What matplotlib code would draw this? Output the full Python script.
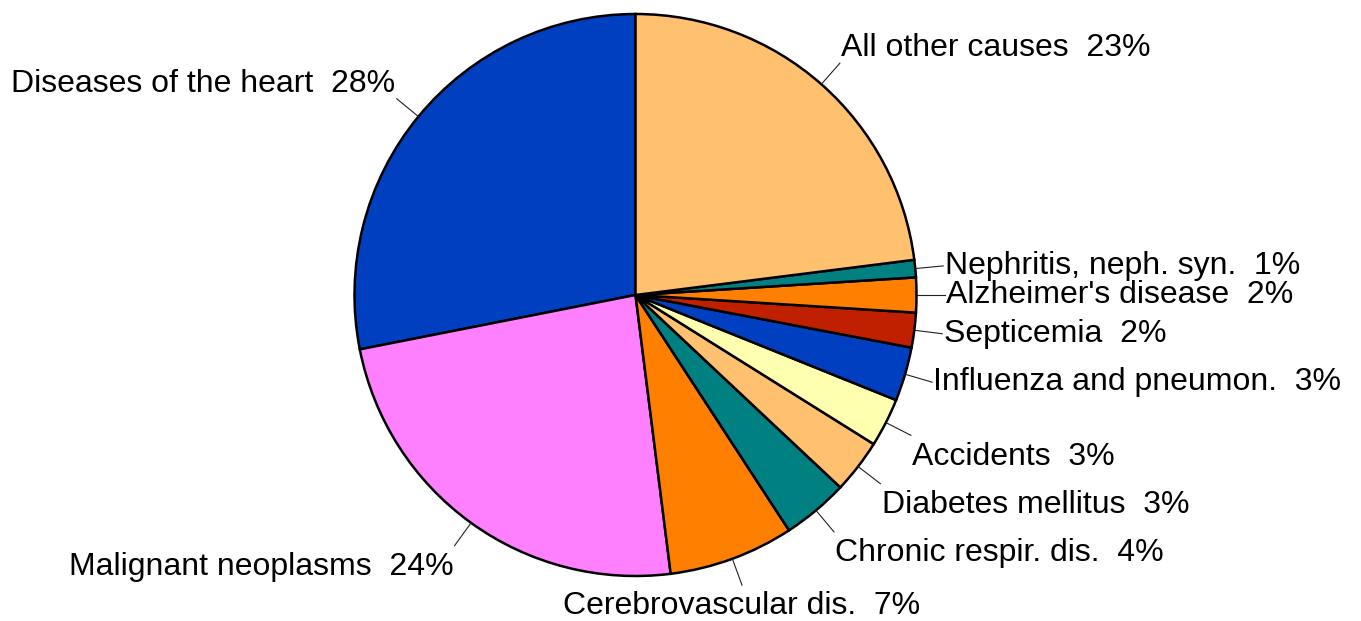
import numpy as np
import matplotlib
matplotlib.use("Agg")
import matplotlib.pyplot as plt

plt.rcParams['font.family'] = ['Liberation Sans', 'DejaVu Sans']

categories = ["Diseases of the heart", "Malignant neoplasms", "Cerebrovascular dis.",
              "Chronic respir. dis.", "Diabetes mellitus", "Accidents",
              "Influenza and pneumon.", "Septicemia", "Alzheimer's disease",
              "Nephritis, neph. syn.", "All other causes"]
values = [28.1, 23.9, 7.2, 3.8, 3.1, 2.8, 3.1, 2.0, 2.0, 1.0, 23.0]
colors = ["#0040C0", "#FF80FF", "#FF8000", "#008080", "#FFC070", "#FFFFB0",
          "#0040C0", "#C02000", "#FF8000", "#008080", "#FFC070"]

W, H = 1361, 621
fig = plt.figure(figsize=(W / 100, H / 100), dpi=100)
cx, cy, r = 635.5, 295, 281
ax = fig.add_axes([(cx - r) / W, (H - cy - r) / H, 2 * r / W, 2 * r / H])

wedges, _ = ax.pie(values, colors=colors, startangle=90, counterclock=True,
                   radius=1.0, wedgeprops=dict(edgecolor='black', linewidth=1.8))
ax.set_xlim(-1, 1)
ax.set_ylim(-1, 1)
ax.axis('off')

total = sum(values)
for w, name, v in zip(wedges, categories, values):
    mid = np.deg2rad((w.theta1 + w.theta2) / 2)
    c, s = np.cos(mid), np.sin(mid)
    x0, y0 = c * 1.0, s * 1.0
    x1, y1 = c * 1.10, s * 1.10
    ax.plot([x0, x1], [y0, y1], color='#222222', lw=0.8, clip_on=False)
    if abs(c) < 0.4:
        ha = 'center'
    else:
        ha = 'left' if c > 0 else 'right'
    dy = 0.0
    if s > 0.4:
        va = 'bottom'
    elif s < -0.4:
        va = 'top'
        dy = -0.022
    else:
        va = 'center'
    dx = 0.005 if ha == 'left' else (-0.005 if ha == 'right' else 0)
    ax.text(x1 + dx, y1 + dy, f"{name}  {round(100 * v / total)}%", ha=ha, va=va,
            fontsize=23, color='black', clip_on=False)

fig.savefig("out.png", dpi=100)
